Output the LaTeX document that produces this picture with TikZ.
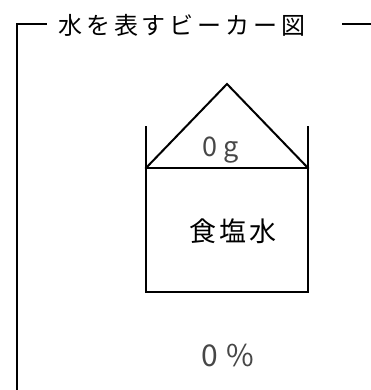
\documentclass[tikz,border=0pt]{standalone}
\usepackage{fontspec}
\newfontfamily\jpplain{Noto Sans CJK JP}
\newcommand{\tgap}{\hspace{3.9pt}}
\newcommand{\sgap}{\hspace{3.5pt}}
\begin{document}
\begin{tikzpicture}[x=1pt,y=-1pt,
  frame/.style={line width=2pt},
  beaker/.style={line width=2pt, line cap=rect},
  title/.style={font=\jpplain\fontsize{24}{24}\selectfont, inner sep=0pt, anchor=west},
  gtext/.style={font=\jpplain\fontsize{27}{27}\selectfont, text=black!72, inner sep=0pt, anchor=base west},
  ptext/.style={font=\jpplain\fontsize{30}{30}\selectfont, text=black!72, inner sep=0pt, anchor=base west},
  bigtext/.style={font=\jpplain\fontsize{27}{27}\selectfont, inner sep=0pt, anchor=center}]
\useasboundingbox (0,0) rectangle (371,390);
% frame
\coordinate (fbl) at (17,390);
\coordinate (ftl) at (17,24);
\coordinate (ft1) at (47,24);
\coordinate (ft2) at (342,24);
\coordinate (ftr) at (371,24);
\draw[frame] (fbl) -- (ftl) -- (ft1);
\draw[frame] (ft2) -- (ftr);
\node[title] (ttl) at (58,25) {水\tgap を\tgap 表\tgap す\tgap ビ\tgap ー\tgap カ\tgap ー\tgap 図};
% beaker
\coordinate (lt) at (146,127);
\coordinate (rt) at (308,127);
\coordinate (lm) at (146,168);
\coordinate (rm) at (308,168);
\coordinate (lb) at (146,292);
\coordinate (rb) at (308,292);
\coordinate (apex) at (227,84);
\draw[beaker] (lt) -- (lb) -- (rb) -- (rt);
\draw[beaker] (lm) -- (rm);
\draw[beaker, line join=miter] (lm) -- (apex) -- (rm);
\node[gtext] (g) at (202,157) {0\hspace{6pt}g};
\node[bigtext] (salt) at (233,231) {食\sgap 塩\sgap 水};
\node[ptext] (pct) at (201,366) {0\hspace{9pt}\%};
\end{tikzpicture}
\end{document}
